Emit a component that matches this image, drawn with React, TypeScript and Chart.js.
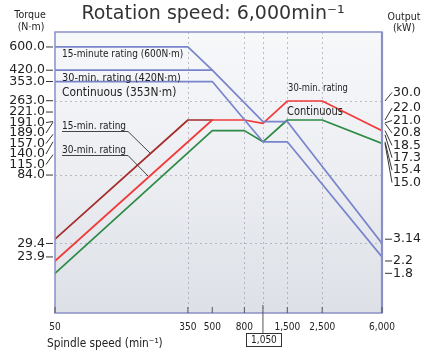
import React, { useEffect, useRef } from 'react';
import { Chart, registerables } from 'chart.js';

Chart.register(...registerables);

// ---------------- data ----------------
const speedTicks = [50, 350, 500, 800, 1050, 1500, 2500, 6000];
const speedTickLabels = ['50', '350', '500', '800', '1,050', '1,500', '2,500', '6,000'];
const boxedSpeed = 1050;

const torqueTicks = [600, 420, 353, 263, 221, 191, 189, 157, 140, 115, 84, 29.4, 23.9];
const torqueTickLabels = ['600.0', '420.0', '353.0', '263.0', '221.0', '191.0', '189.0', '157.0', '140.0', '115.0', '84.0', '29.4', '23.9'];

const outputTicks = [30, 22, 21, 20.8, 18.5, 17.3, 15.4, 15, 3.14, 2.2, 1.8];
const outputTickLabels = ['30.0', '22.0', '21.0', '20.8', '18.5', '17.3', '15.4', '15.0', '3.14', '2.2', '1.8'];

// torque curves (N·m, left axis)
const torque15Speeds = [50, 350, 500];
const torque15Values = [600, 600, 420];
const torque30Speeds = [50, 500, 1050, 1500, 6000];
const torque30Values = [420, 420, 191, 191, 29.4];
const torqueContSpeeds = [50, 500, 1050, 1500, 6000];
const torqueContValues = [353, 353, 140, 140, 23.9];

// output curves (kW, right axis)
const output15Speeds = [50, 350, 500];
const output15Values = [3.14, 22, 22];
const output30Speeds = [50, 500, 800, 1050, 1500, 2500, 6000];
const output30Values = [2.2, 22, 22, 20.8, 30, 30, 18.5];
const outputContSpeeds = [50, 500, 800, 1050, 1500, 2500, 6000];
const outputContValues = [1.8, 18.5, 18.5, 15.4, 22, 22, 15.0];

// dotted guide lines
const gridSpeeds = [350, 800, 1050, 1500, 2500];
const gridTorques = [263, 84, 29.4];

// ---------------- styles ----------------
const BLUE = '#7884cc';
const DARKRED = '#a52c2c';
const RED = '#f23a3a';
const GREEN = '#2b8a45';
const TEXT = '#222';
const FONT = '"DejaVu Sans", "Liberation Sans", sans-serif';

function drawText(
  ctx: CanvasRenderingContext2D,
  s: string,
  x: number,
  y: number,
  size: number,
  o: { align?: CanvasTextAlign; sx?: number; color?: string; weight?: string } = {}
) {
  const sx = o.sx ?? 1;
  ctx.save();
  ctx.font = `${o.weight || 'normal'} ${size}px ${FONT}`;
  ctx.fillStyle = o.color || TEXT;
  ctx.textBaseline = 'middle';
  ctx.textAlign = o.align || 'left';
  ctx.translate(x, y);
  ctx.scale(sx, 1);
  ctx.fillText(s, 0, 0);
  const w = ctx.measureText(s).width * sx;
  ctx.restore();
  return w;
}

// push labels down so they never overlap
function spreadDown(ys: number[], gap: number) {
  const idx = ys.map((_, i) => i).sort((a, b) => ys[a] - ys[b]);
  const out = ys.slice();
  let prev = -Infinity;
  for (const i of idx) {
    out[i] = Math.max(ys[i], prev + gap);
    prev = out[i];
  }
  return out;
}

// centre each overlapping group of labels on its mean position
function spreadCentered(ys: number[], gap: number) {
  const idx = ys.map((_, i) => i).sort((a, b) => ys[a] - ys[b]);
  let groups = idx.map((i) => ({ m: [i], top: ys[i] }));
  let merged = true;
  while (merged) {
    merged = false;
    for (let k = 0; k < groups.length - 1; k++) {
      const g = groups[k];
      const h = groups[k + 1];
      if (g.top + g.m.length * gap > h.top) {
        const m = g.m.concat(h.m);
        const mean = m.reduce((s, i) => s + ys[i], 0) / m.length;
        groups.splice(k, 2, { m, top: mean - ((m.length - 1) * gap) / 2 });
        merged = true;
        break;
      }
    }
  }
  const out = ys.slice();
  for (const g of groups) g.m.forEach((i, j) => (out[i] = g.top + j * gap));
  return out;
}

function spread(ys: number[], gap: number, centerBias: number) {
  const a = spreadDown(ys, gap);
  const b = spreadCentered(ys, gap);
  return a.map((v, i) => v * (1 - centerBias) + b[i] * centerBias);
}

const decor = {
  id: 'decor',
  beforeDatasetsDraw(chart: any) {
    const { ctx, chartArea: a, scales } = chart;
    ctx.save();
    const g = ctx.createLinearGradient(0, a.top, 0, a.bottom);
    g.addColorStop(0, '#f7f8fa');
    g.addColorStop(0.5, '#eceef2');
    g.addColorStop(1, '#dde0e6');
    ctx.fillStyle = g;
    ctx.fillRect(a.left, a.top, a.right - a.left, a.bottom - a.top);
    ctx.strokeStyle = 'rgba(150,150,160,0.6)';
    ctx.lineWidth = 1;
    ctx.setLineDash([2, 3]);
    for (const s of gridSpeeds) {
      const x = Math.round(scales.x.getPixelForValue(s)) + 0.5;
      ctx.beginPath();
      ctx.moveTo(x, a.top);
      ctx.lineTo(x, a.bottom);
      ctx.stroke();
    }
    for (const t of gridTorques) {
      const y = Math.round(scales.yT.getPixelForValue(t)) + 0.5;
      ctx.beginPath();
      ctx.moveTo(a.left, y);
      ctx.lineTo(a.right, y);
      ctx.stroke();
    }
    ctx.restore();
  },
  afterDatasetsDraw(chart: any) {
    const { ctx, chartArea: a, scales } = chart;
    ctx.save();
    // plot frame
    ctx.strokeStyle = '#8a8fc6';
    ctx.lineWidth = 1.5;
    ctx.strokeRect(a.left, a.top, a.right - a.left, a.bottom - a.top);
    ctx.lineWidth = 2.2;
    ctx.beginPath();
    ctx.moveTo(a.right, a.top);
    ctx.lineTo(a.right, a.bottom);
    ctx.stroke();

    // left ticks
    ctx.strokeStyle = '#333';
    ctx.lineWidth = 1;
    const ty = torqueTicks.map((v) => scales.yT.getPixelForValue(v));
    const ly = spread(ty, 10.5, 0);
    torqueTicks.forEach((_, i) => {
      ctx.beginPath();
      ctx.moveTo(a.left - 9, ly[i]);
      ctx.lineTo(a.left - 2, ty[i]);
      ctx.stroke();
      drawText(ctx, torqueTickLabels[i], a.left - 10, ly[i], 12.5, { align: 'right' });
    });

    // right ticks
    const py = outputTicks.map((v) => scales.yP.getPixelForValue(v));
    const ry = spread(py, 12.4, 0.5);
    outputTicks.forEach((_, i) => {
      ctx.beginPath();
      ctx.moveTo(a.right + 3, py[i]);
      ctx.lineTo(a.right + 10, ry[i]);
      ctx.stroke();
      drawText(ctx, outputTickLabels[i], a.right + 11, ry[i], 12.5);
    });

    // x ticks
    speedTicks.forEach((s, i) => {
      const x = scales.x.getPixelForValue(s);
      ctx.strokeStyle = '#555';
      ctx.beginPath();
      if (s === boxedSpeed) {
        ctx.moveTo(x, a.bottom - 8);
        ctx.lineTo(x, a.bottom + 20);
      } else {
        ctx.moveTo(x, a.bottom - 6);
        ctx.lineTo(x, a.bottom);
      }
      ctx.stroke();
      if (s === boxedSpeed) {
        ctx.strokeStyle = '#333';
        ctx.strokeRect(Math.round(x - 17) + 0.5, a.bottom + 20.5, 35, 13);
        drawText(ctx, speedTickLabels[i], x + 1, a.bottom + 27.5, 11, { align: 'center', sx: 0.82 });
      } else {
        drawText(ctx, speedTickLabels[i], x, a.bottom + 14, 11, { align: 'center', sx: 0.82 });
      }
    });

    // axis titles
    drawText(ctx, 'Torque', 30, 15, 10.5, { align: 'center', sx: 0.9 });
    drawText(ctx, '(N·m)', 31, 27, 10.5, { align: 'center', sx: 0.9 });
    drawText(ctx, 'Output', 404, 17, 10.5, { align: 'center', sx: 0.9 });
    drawText(ctx, '(kW)', 404, 28, 10.5, { align: 'center', sx: 0.9 });
    drawText(ctx, 'Spindle speed (min⁻¹)', 47, 344, 12, { sx: 0.88 });

    // main title
    drawText(ctx, 'Rotation speed: 6,000min⁻¹', 213, 14, 19, { align: 'center', color: '#333' });

    // in-plot annotations
    drawText(ctx, '15-minute rating (600N·m)', 62, 54, 10, { sx: 0.9 });
    drawText(ctx, '30-min. rating (420N·m)', 62, 78, 10.5, { sx: 0.93 });
    drawText(ctx, 'Continuous (353N·m)', 62, 93, 11.5, { sx: 0.93 });

    ctx.strokeStyle = '#444';
    ctx.lineWidth = 1;
    const w1 = drawText(ctx, '15-min. rating', 62, 126, 10, { sx: 0.9 });
    ctx.beginPath();
    ctx.moveTo(62, 131.5);
    ctx.lineTo(62 + w1 + 2, 131.5);
    ctx.lineTo(150, 153);
    ctx.stroke();
    const w2 = drawText(ctx, '30-min. rating', 62, 150, 10, { sx: 0.9 });
    ctx.beginPath();
    ctx.moveTo(62, 155.5);
    ctx.lineTo(62 + w2 + 2, 155.5);
    ctx.lineTo(148, 176);
    ctx.stroke();

    drawText(ctx, '30-min. rating', 318, 88, 10, { align: 'center', sx: 0.84 });
    drawText(ctx, 'Continuous', 315, 112, 11.5, { align: 'center', sx: 0.86 });
    ctx.restore();
  },
};

function pts(xs: number[], ys: number[]) {
  return xs.map((x, i) => ({ x, y: ys[i] }));
}

export default function App() {
  const ref = useRef<HTMLCanvasElement>(null);
  useEffect(() => {
    const canvas = ref.current;
    if (!canvas) return;
    const line = (data: any, color: string, axis: string) => ({
      data,
      borderColor: color,
      borderWidth: 1.7,
      yAxisID: axis,
      pointRadius: 0,
      fill: false,
      tension: 0,
    });
    const chart = new Chart(canvas, {
      type: 'line',
      data: {
        datasets: [
          line(pts(torque15Speeds, torque15Values), BLUE, 'yT'),
          line(pts(torque30Speeds, torque30Values), BLUE, 'yT'),
          line(pts(torqueContSpeeds, torqueContValues), BLUE, 'yT'),
          line(pts(outputContSpeeds, outputContValues), GREEN, 'yP'),
          line(pts(output30Speeds, output30Values), RED, 'yP'),
          line(pts(output15Speeds, output15Values), DARKRED, 'yP'),
        ] as any,
      },
      options: {
        animation: false,
        responsive: false,
        maintainAspectRatio: false,
        layout: { padding: { left: 55, right: 43, top: 32, bottom: 39 } },
        plugins: { legend: { display: false }, tooltip: { enabled: false }, title: { display: false } },
        elements: { line: { borderJoinStyle: 'round', borderCapStyle: 'round' } },
        scales: {
          x: { type: 'logarithmic', min: 50, max: 6000, display: false },
          yT: { type: 'logarithmic', position: 'left', min: 10.11, max: 755, display: false },
          yP: { type: 'logarithmic', position: 'right', min: 0.941, max: 92.6, display: false },
        },
      } as any,
      plugins: [decor],
    });
    return () => chart.destroy();
  }, []);
  return (
    <div style={{ position: 'absolute', left: 0, top: 0, width: 425, height: 352, background: '#fff' }}>
      <canvas ref={ref} width={425} height={352} style={{ display: 'block' }} />
    </div>
  );
}
